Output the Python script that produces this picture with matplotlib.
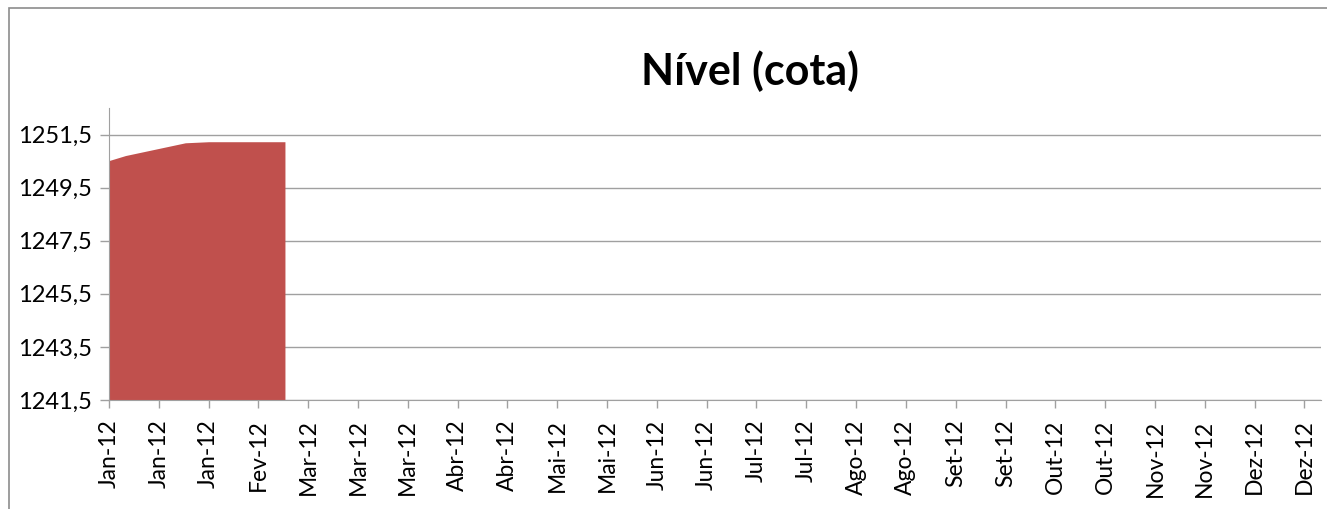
import pandas as pd
import matplotlib.pyplot as plt
from matplotlib.patches import Rectangle

plt.rcParams['font.family'] = ['Lato', 'DejaVu Sans']

# Dados (cota diaria, jan-fev 2012)
datas = pd.to_datetime(['2012-01-01', '2012-01-06', '2012-01-24', '2012-01-31', '2012-02-23'])
cota = [1250.52, 1250.71, 1251.19, 1251.23, 1251.23]

# Eixo X: marcas a cada 15 dias, rotulos como no Excel
ticks_x = pd.date_range('2012-01-01', periods=25, freq='15D')
rotulos_x = ['Jan-12', 'Jan-12', 'Jan-12', 'Fev-12', 'Mar-12', 'Mar-12', 'Mar-12',
             'Abr-12', 'Abr-12', 'Mai-12', 'Mai-12', 'Jun-12', 'Jun-12', 'Jul-12',
             'Jul-12', 'Ago-12', 'Ago-12', 'Set-12', 'Set-12', 'Out-12', 'Out-12',
             'Nov-12', 'Nov-12', 'Dez-12', 'Dez-12']

ticks_y = [1241.5, 1243.5, 1245.5, 1247.5, 1249.5, 1251.5]
rotulos_y = ['1241,5', '1243,5', '1245,5', '1247,5', '1249,5', '1251,5']

fig = plt.figure(figsize=(13.27, 5.09), dpi=100)
ax = fig.add_axes([0.0821, 0.2141, 0.9134, 0.5737])

ax.fill_between(datas, 1241.5, cota, color='#C0504D', linewidth=0, zorder=2)

ax.set_xlim(pd.Timestamp('2012-01-01'), pd.Timestamp('2012-12-31'))
ax.set_ylim(1241.5, 1252.5)
ax.set_xticks(ticks_x)
ax.set_xticklabels(rotulos_x, rotation=90, fontsize=16.5)
ax.set_yticks(ticks_y)
ax.set_yticklabels(rotulos_y, fontsize=17)

ax.grid(axis='y', color='#A0A0A0', linewidth=1, zorder=1)
ax.tick_params(axis='x', color='#A0A0A0', length=6, width=1, pad=8)
ax.tick_params(axis='y', color='#A0A0A0', length=6.5, width=1, pad=6)
for lado in ['top', 'right']:
    ax.spines[lado].set_visible(False)
for lado in ['left', 'bottom']:
    ax.spines[lado].set_color('#A0A0A0')
    ax.spines[lado].set_zorder(3)

fig.text(0.565, 0.860, 'Nível (cota)', fontsize=31, fontweight='bold', ha='center', va='center')

# moldura do grafico
fig.patches.append(Rectangle((9 / 1327, -0.1), 1.2, 1 - 8 / 509 + 0.1, transform=fig.transFigure,
                             fill=False, edgecolor='#8C8C8C', linewidth=1.2))

fig.savefig('out.png', dpi=100)
